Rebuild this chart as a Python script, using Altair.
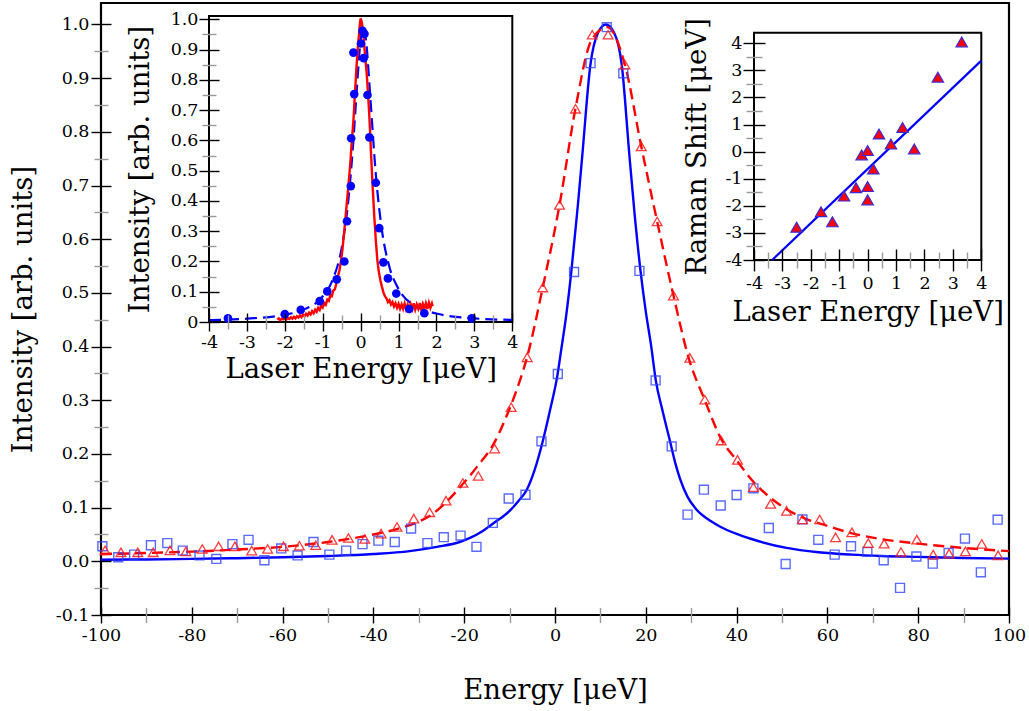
import altair as alt
import pandas as pd

FONT = "DejaVu Serif"
LABEL_SIZE = 17.5
TITLE_SIZE = 27.5

# ---------------- main spectrum ----------------
sq_energy = [-99.7, -96.2, -92.7, -89.0, -85.4, -82.0, -78.3, -74.6, -71.05, -67.5,
             -64.0, -60.3, -56.7, -53.2, -49.7, -46.0, -42.4, -38.9, -35.3, -31.7,
             -28.1, -24.5, -20.8, -17.3, -13.7, -10.2, -6.5, -2.98, 0.62, 4.2,
             7.83, 11.4, 15.04, 18.6, 22.16, 25.7, 29.2, 32.8, 36.5, 40.0,
             43.7, 47.1, 50.8, 54.5, 58.0, 61.6, 65.2, 68.8, 72.4, 76.0,
             79.6, 83.2, 86.7, 90.3, 93.8, 97.5]
sq_intensity = [0.028, 0.0075, 0.0125, 0.030, 0.034, 0.020, 0.011, 0.0045, 0.032, 0.040,
                0.002, 0.024, 0.011, 0.036, 0.0125, 0.020, 0.032, 0.0385, 0.036, 0.061,
                0.034, 0.045, 0.048, 0.027, 0.0715, 0.117, 0.124, 0.2235, 0.349, 0.539,
                0.928, 0.995, 0.909, 0.541, 0.337, 0.214, 0.087, 0.1335, 0.104, 0.1236,
                0.136, 0.062, -0.005, 0.078, 0.040, 0.0125, 0.028, 0.0175, 0.002, -0.0495,
                0.009, -0.0043, 0.0155, 0.0424, -0.0205, 0.0776]

tri_energy = [-99.1, -95.6, -91.9, -88.5, -84.8, -81.3, -77.7, -74.1, -70.5, -66.8,
              -63.3, -59.8, -56.3, -52.7, -49.1, -45.5, -41.9, -38.3, -34.8, -31.1,
              -27.6, -24.0, -20.3, -16.9, -13.3, -9.66, -6.13, -2.7, 1.0, 4.52,
              8.2, 11.7, 15.4, 19.0, 22.5, 26.1, 29.7, 33.0, 36.6, 40.2,
              43.7, 47.5, 51.0, 54.5, 58.3, 61.8, 65.4, 69.0, 72.5, 76.2,
              79.7, 83.3, 86.8, 90.4, 94.0, 97.6]
tri_intensity = [0.0205, 0.0168, 0.0168, 0.0168, 0.0205, 0.0186, 0.023, 0.028, 0.028, 0.020,
                 0.023, 0.028, 0.029, 0.030, 0.040, 0.0435, 0.0417, 0.0516, 0.064, 0.0795,
                 0.0913, 0.113, 0.146, 0.159, 0.21, 0.287, 0.38, 0.51, 0.664, 0.843,
                 0.981, 0.981, 0.925, 0.773, 0.633, 0.495, 0.379, 0.301, 0.225, 0.189,
                 0.138, 0.107, 0.094, 0.078, 0.078, 0.0447, 0.054, 0.034, 0.033, 0.0175,
                 0.0404, 0.0125, 0.0143, 0.0186, 0.0324, 0.0112]

blue_fit_energy = [-100, -90, -80, -70, -60, -50, -40, -32, -26, -21, -18.6, -16, -13.7,
                   -10, -8, -6.3, -4.5, -2.6, -1, 0.5, 1.3, 2.5, 3.6, 5.0, 6.0, 7.8, 9.5,
                   11.2, 13.0, 14.7, 16.4, 17.5, 18.85, 20.0, 21.2, 22.2, 23.7, 25.3, 26.5,
                   27.6, 29.2, 31, 34.3, 36.5, 40, 43.1, 51, 58, 65.4, 72, 80, 90, 100]
blue_fit_intensity = [0.003, 0.0035, 0.0045, 0.0058, 0.0075, 0.0098, 0.0135, 0.019, 0.027,
                      0.036, 0.044, 0.056, 0.070, 0.094, 0.113, 0.132, 0.170, 0.227, 0.285,
                      0.345, 0.39, 0.46, 0.54, 0.66, 0.755, 0.925, 0.985, 1.0, 0.985, 0.925,
                      0.755, 0.65, 0.54, 0.465, 0.40, 0.337, 0.28, 0.225, 0.183, 0.152, 0.120,
                      0.098, 0.075, 0.064, 0.051, 0.042, 0.025, 0.017, 0.0125, 0.0100,
                      0.0082, 0.0062, 0.005]

red_fit_energy = [-100, -90, -80, -70, -60, -50, -40, -34, -30, -27, -24, -20.5, -17,
                  -13.3, -11.3, -8.5, -6.1, -2.7, 1.0, 4.5, 8.0, 11.5, 15.4, 19.0, 22.5,
                  26.1, 29.4, 33.0, 36.6, 40.2, 43.5, 47.5, 51, 55, 60, 65, 70, 80, 90, 100]
red_fit_intensity = [0.0135, 0.0155, 0.018, 0.022, 0.027, 0.036, 0.050, 0.062, 0.074, 0.088,
                     0.110, 0.142, 0.178, 0.222, 0.258, 0.318, 0.382, 0.51, 0.664, 0.843,
                     0.97, 0.995, 0.925, 0.773, 0.633, 0.495, 0.38, 0.30, 0.228, 0.186,
                     0.150, 0.118, 0.097, 0.080, 0.066, 0.053, 0.044, 0.033, 0.025, 0.019]

# ---------------- inset: laser scan ----------------
dot_laser = [-3.5, -2.0, -1.58, -1.08, -0.88, -0.63, -0.43, -0.36, -0.26, -0.25, -0.17,
             -0.19, 0.01, 0.05, 0.1, 0.08, 0.18, 0.23, 0.4, 0.49, 0.6, 0.72, 0.94, 1.28,
             1.68, 2.93]
dot_intensity = [0.012, 0.026, 0.04, 0.069, 0.101, 0.141, 0.2, 0.333, 0.449, 0.607, 0.753,
                 0.89, 0.92, 0.962, 0.952, 0.872, 0.75, 0.61, 0.46, 0.31, 0.197, 0.144,
                 0.094, 0.043, 0.029, 0.012]

dash_laser = [-4, -3, -2, -1.5, -1, -0.75, -0.5, -0.35, -0.2, -0.1, 0, 0.07, 0.15, 0.25,
              0.4, 0.55, 0.75, 1, 1.5, 2, 3, 4]
dash_intensity = [0.006, 0.011, 0.024, 0.041, 0.085, 0.136, 0.245, 0.372, 0.584, 0.771,
                  0.933, 0.975, 0.921, 0.751, 0.488, 0.313, 0.186, 0.109, 0.049, 0.028,
                  0.012, 0.007]

trace_laser = [-2.20, -2.16, -2.12, -2.08, -2.04, -2.00, -1.96, -1.92, -1.88, -1.84, -1.80,
               -1.76, -1.72, -1.68, -1.64, -1.60, -1.56, -1.52, -1.48, -1.44, -1.40, -1.36,
               -1.32, -1.28, -1.24, -1.20, -1.16, -1.12, -1.08, -1.04, -1.00, -0.96, -0.92,
               -0.88, -0.84, -0.80, -0.76, -0.72, -0.68, -0.64, -0.60,
               -0.56, -0.52, -0.48, -0.44, -0.40, -0.36, -0.32, -0.28, -0.24, -0.19, -0.15,
               -0.11, -0.07, -0.04, -0.02, 0.0, 0.03, 0.07, 0.11, 0.16, 0.20, 0.23, 0.26,
               0.29, 0.32, 0.36, 0.40, 0.44, 0.48, 0.52, 0.56, 0.60,
               0.64, 0.68, 0.72, 0.76, 0.80, 0.84, 0.88, 0.92, 0.96, 1.00, 1.04, 1.08, 1.12,
               1.16, 1.20, 1.24, 1.28, 1.32, 1.36, 1.40, 1.44, 1.48, 1.52, 1.56, 1.60, 1.64,
               1.68, 1.72, 1.76, 1.80, 1.84, 1.88, 1.90]
trace_intensity = [0.008, 0.012, 0.006, 0.011, 0.009, 0.014, 0.008, 0.013, 0.010, 0.016, 0.011,
                   0.017, 0.012, 0.019, 0.015, 0.022, 0.016, 0.024, 0.019, 0.027, 0.021, 0.031,
                   0.025, 0.036, 0.029, 0.041, 0.034, 0.047, 0.040, 0.054, 0.048, 0.063, 0.057,
                   0.074, 0.070, 0.088, 0.085, 0.104, 0.108, 0.128, 0.150,
                   0.170, 0.200, 0.240, 0.290, 0.345, 0.400, 0.455, 0.513, 0.585, 0.667, 0.755,
                   0.843, 0.915, 0.954, 0.985, 1.003, 0.99, 0.954, 0.89, 0.82, 0.745, 0.678,
                   0.595, 0.513, 0.44, 0.348, 0.27, 0.205, 0.165, 0.138, 0.117, 0.098,
                   0.085, 0.078, 0.066, 0.072, 0.058, 0.066, 0.051, 0.062, 0.047, 0.060, 0.044,
                   0.058, 0.043, 0.061, 0.042, 0.057, 0.040, 0.059, 0.043, 0.062, 0.041, 0.058,
                   0.044, 0.063, 0.042, 0.060, 0.045, 0.062, 0.043, 0.064, 0.047, 0.061, 0.052]

# ---------------- inset: Raman shift ----------------
shift_laser = [-2.50, -1.64, -1.24, -0.83, -0.41, -0.21, 0.0, 0.0, 0.0, 0.2, 0.4, 0.82,
               1.23, 1.64, 2.47, 3.31]
shift_raman = [-2.79, -2.22, -2.59, -1.64, -1.33, -0.12, 0.04, -1.29, -1.78, -0.64, 0.65,
               0.28, 0.89, 0.1, 2.75, 4.05]
shift_fit_laser = [-3.36, 4.0]
shift_fit_raman = [-4.0, 3.36]

# ---------------- layout ----------------
W, H = 908, 612
MAIN_X, MAIN_Y = [-100, 100], [-0.1, 1.04]
IN1_X, IN1_Y = [-4, 4], [0, 1.011]
IN1_XR, IN1_YR = [108, 411.3], [319, 13]
IN2_X, IN2_Y = [-4, 4], [-4, 4.39]
IN2_XR, IN2_YR = [653, 880.3], [257, 29.7]


def sc(domain, rng=None):
    if rng is None:
        return alt.Scale(domain=domain, nice=False, zero=False)
    return alt.Scale(domain=domain, range=rng, nice=False, zero=False)


def hyphen(fmt):
    return (f"datum.value < 0 ? '-' + format(-datum.value, '{fmt}') "
            f": format(datum.value, '{fmt}')")


def major(orient, values, offset, size, expr, title, lpad, tpad):
    return alt.Axis(orient=orient, values=values, offset=offset, tickSize=size,
                    tickColor="black", tickWidth=1.4, domain=False, grid=False,
                    labelExpr=expr, labelPadding=lpad, labelFlush=False,
                    labelOverlap=False, labelFont=FONT, labelFontSize=LABEL_SIZE,
                    labelColor="black", title=title, titleFont=FONT,
                    titleFontSize=TITLE_SIZE, titleFontWeight="normal",
                    titleColor="black", titlePadding=tpad, zindex=2)


def minor(orient, values, offset, size):
    return alt.Axis(orient=orient, values=values, offset=offset, tickSize=size,
                    tickColor="#9a9a9a", tickWidth=1.4, domain=False, grid=False,
                    labels=False, title=None, zindex=2)


def frame(xd, yd):
    return pd.DataFrame({"x0": [xd[0]], "x1": [xd[1]], "y0": [yd[0]], "y1": [yd[1]]})


half_tenths = [round(-0.05 + 0.1 * k, 2) for k in range(11)]
tenths = [round(-0.1 + 0.1 * k, 1) for k in range(12)]

# main axes
main_x_axis = major("bottom", list(range(-100, 101, 20)), -8, 16, hyphen("d"),
                    "Energy [μeV]", 3, 33)
main_y_axis = major("left", tenths, -10, 20, hyphen(".1f"),
                    "Intensity [arb. units]", 2, 18)

df_bfit = pd.DataFrame({"E": blue_fit_energy, "I": blue_fit_intensity})
df_rfit = pd.DataFrame({"E": red_fit_energy, "I": red_fit_intensity})
df_sq = pd.DataFrame({"E": sq_energy, "I": sq_intensity})
df_tri = pd.DataFrame({"E": tri_energy, "I": tri_intensity})

blue_line = alt.Chart(df_bfit).mark_line(color="#0000ff", strokeWidth=2.4,
                                         interpolate="monotone").encode(
    x=alt.X("E:Q", scale=sc(MAIN_X), axis=main_x_axis),
    y=alt.Y("I:Q", scale=sc(MAIN_Y), axis=main_y_axis))

red_line = alt.Chart(df_rfit).mark_line(color="#ff0000", strokeWidth=2.4,
                                        strokeDash=[11, 6],
                                        interpolate="monotone").encode(
    x=alt.X("E:Q", scale=sc(MAIN_X), axis=None),
    y=alt.Y("I:Q", scale=sc(MAIN_Y), axis=None))

squares = alt.Chart(df_sq).mark_point(shape="square", filled=False, color="#2f45ff",
                                      strokeWidth=1.4, size=80, opacity=0.8).encode(
    x=alt.X("E:Q", scale=sc(MAIN_X), axis=None),
    y=alt.Y("I:Q", scale=sc(MAIN_Y), axis=None))

triangles = alt.Chart(df_tri).mark_point(shape="triangle-up", filled=False,
                                         color="#ff1a1a", strokeWidth=1.3, size=95,
                                         opacity=0.85).encode(
    x=alt.X("E:Q", scale=sc(MAIN_X), axis=None),
    y=alt.Y("I:Q", scale=sc(MAIN_Y), axis=None))

main_minor = alt.Chart(frame(MAIN_X, MAIN_Y)).mark_point(opacity=0).encode(
    x=alt.X("x0:Q", scale=sc(MAIN_X),
            axis=minor("bottom", list(range(-90, 100, 20)), -7.5, 15)),
    y=alt.Y("y0:Q", scale=sc(MAIN_Y), axis=minor("left", half_tenths, -7, 14)))

# inset 1: laser scan
in1_box = alt.Chart(frame(IN1_X, IN1_Y)).mark_rect(fill="white", stroke="black",
                                                   strokeWidth=2).encode(
    x=alt.X("x0:Q", scale=sc(IN1_X, IN1_XR),
            axis=major("bottom", list(range(-4, 5)), -302, 18, hyphen("d"),
                       "Laser Energy [μeV]", 2, 5)),
    x2="x1:Q",
    y=alt.Y("y0:Q", scale=sc(IN1_Y, IN1_YR),
            axis=major("left", [round(0.1 * k, 1) for k in range(11)], -118, 20,
                       "datum.value == 0 ? '0' : format(datum.value, '.1f')",
                       "Intensity [arb. units]", 1, 16)),
    y2="y1:Q")

in1_minor = alt.Chart(frame(IN1_X, IN1_Y)).mark_point(opacity=0).encode(
    x=alt.X("x0:Q", scale=sc(IN1_X, IN1_XR),
            axis=minor("bottom", [-3.5, -2.5, -1.5, -0.5, 0.5, 1.5, 2.5, 3.5], -300, 14)),
    y=alt.Y("y0:Q", scale=sc(IN1_Y, IN1_YR),
            axis=minor("left", [round(0.05 + 0.1 * k, 2) for k in range(10)], -115, 14)))

df_dash = pd.DataFrame({"x": dash_laser, "y": dash_intensity})
df_dots = pd.DataFrame({"x": dot_laser, "y": dot_intensity})
df_trace = pd.DataFrame({"x": trace_laser, "y": trace_intensity})

in1_dash = alt.Chart(df_dash).mark_line(color="#0000ff", strokeWidth=2.2,
                                        strokeDash=[12, 6],
                                        interpolate="monotone").encode(
    x=alt.X("x:Q", scale=sc(IN1_X, IN1_XR), axis=None),
    y=alt.Y("y:Q", scale=sc(IN1_Y, IN1_YR), axis=None))

in1_dots = alt.Chart(df_dots).mark_circle(color="#0000ff", size=75, opacity=1).encode(
    x=alt.X("x:Q", scale=sc(IN1_X, IN1_XR), axis=None),
    y=alt.Y("y:Q", scale=sc(IN1_Y, IN1_YR), axis=None))

in1_trace = alt.Chart(df_trace).mark_line(color="#ff0000", strokeWidth=2.4).encode(
    x=alt.X("x:Q", scale=sc(IN1_X, IN1_XR), axis=None),
    y=alt.Y("y:Q", scale=sc(IN1_Y, IN1_YR), axis=None))

# inset 2: Raman shift versus laser energy
in2_box = alt.Chart(frame(IN2_X, IN2_Y)).mark_rect(fill="white", stroke="black",
                                                   strokeWidth=2).encode(
    x=alt.X("x0:Q", scale=sc(IN2_X, IN2_XR),
            axis=major("bottom", list(range(-4, 5)), -366, 22, hyphen("d"),
                       "Laser Energy [μeV]", 3, 7)),
    x2="x1:Q",
    y=alt.Y("y0:Q", scale=sc(IN2_Y, IN2_YR),
            axis=major("left", list(range(-4, 5)), -664, 22, hyphen("d"),
                       "Raman Shift [μeV]", 1, 13)),
    y2="y1:Q")

in2_minor = alt.Chart(frame(IN2_X, IN2_Y)).mark_point(opacity=0).encode(
    x=alt.X("x0:Q", scale=sc(IN2_X, IN2_XR),
            axis=minor("bottom", [-3.5, -2.5, -1.5, -0.5, 0.5, 1.5, 2.5, 3.5], -363, 16)),
    y=alt.Y("y0:Q", scale=sc(IN2_Y, IN2_YR),
            axis=minor("left", [-3.5, -2.5, -1.5, -0.5, 0.5, 1.5, 2.5, 3.5], -661, 16)))

df_shift = pd.DataFrame({"x": shift_laser, "y": shift_raman})
df_sfit = pd.DataFrame({"x": shift_fit_laser, "y": shift_fit_raman})

in2_line = alt.Chart(df_sfit).mark_line(color="#0000ff", strokeWidth=2.2).encode(
    x=alt.X("x:Q", scale=sc(IN2_X, IN2_XR), axis=None),
    y=alt.Y("y:Q", scale=sc(IN2_Y, IN2_YR), axis=None))

in2_pts = alt.Chart(df_shift).mark_point(shape="triangle-up", filled=True,
                                         fill="#ff0000", stroke="#3a2ad8",
                                         strokeWidth=1.2, size=130, opacity=1).encode(
    x=alt.X("x:Q", scale=sc(IN2_X, IN2_XR), axis=None),
    y=alt.Y("y:Q", scale=sc(IN2_Y, IN2_YR), axis=None))

chart = alt.layer(
    blue_line, red_line, squares, triangles, main_minor,
    in1_box, in1_minor, in1_dash, in1_trace, in1_dots,
    in2_box, in2_minor, in2_line, in2_pts,
).resolve_scale(
    x="independent", y="independent"
).properties(
    width=W, height=H,
    padding={"left": 101, "top": 3, "right": 20, "bottom": 96},
    autosize=alt.AutoSizeParams(type="none"),
).configure_view(stroke="black", strokeWidth=2.2)

chart.save("out.html", embed_options={"renderer": "svg", "actions": False})
